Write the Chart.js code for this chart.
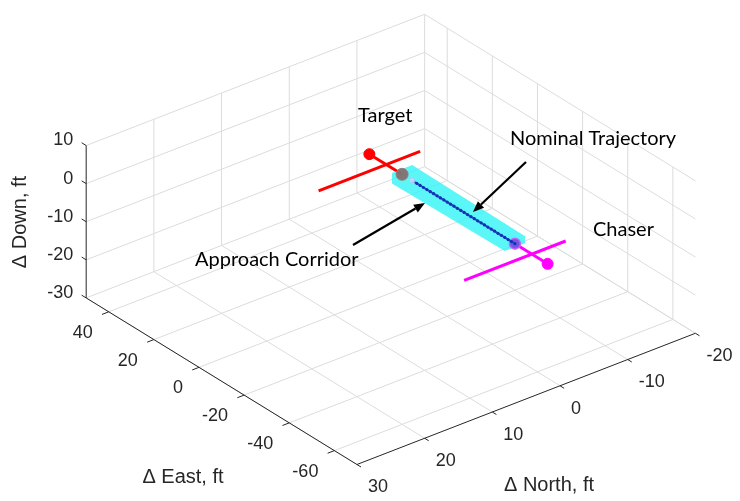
<!DOCTYPE html>
<html><head><meta charset="utf-8">
<script src="https://cdn.jsdelivr.net/npm/chart.js@4/dist/chart.umd.min.js"></script>
<style>html,body{margin:0;padding:0;background:#fff}canvas{display:block}</style>
</head><body>
<canvas id="c" width="740" height="501" style="width:740px;height:501px"></canvas>
<script>
// ---------- axis ranges & ticks (ft) ----------
const eastRange  = [-70, 50];
const northRange = [-20, 30];
const downRange  = [-30, 10];
const eastTicks  = [40, 20, 0, -20, -40, -60];
const northTicks = [30, 20, 10, 0, -10, -20];
const downTicks  = [10, 0, -10, -20, -30];

// ---------- data: [East, North, Down] ----------
const targetCenter = [14.5, 0, 0];
const targetPort   = [0, 0, 0];
const targetBarEast = 7;
const targetBarNorth = [-5, 10];
const chaserCenter = [-64.5, 0, 0];
const chaserPort   = [-50, 0, 0];
const chaserBarEast = -57.5;
const chaserBarNorth = [-5, 10];
const corridorEast = [0, -50];
const corridorHalfNorth = [1.5, 1.5];
const corridorHalfDown  = [1.4, 0.9];
const trajectoryEast = [-50, -48.5, -47, -45.5, -44, -42.5, -41, -39.5, -38, -36.5, -35, -33.5, -32, -30.5, -29, -27.5, -26, -24.5, -23, -21.5, -20, -18.5, -17, -15.5, -14, -12.5, -11, -9.5, -8, -6.5, -5];
const trajectoryNorth = trajectoryEast.map(() => 0);
const trajectoryDown  = trajectoryEast.map(() => 0);

// ---------- annotations (text + arrows) ----------
const labels = [
  {text: 'Target', x: 358, y: 116},
  {text: 'Nominal Trajectory', x: 510, y: 139},
  {text: 'Chaser', x: 593, y: 230},
  {text: 'Approach Corridor', x: 195, y: 260}
];
const arrows = [
  {from: [526, 162], to: [473, 212]},
  {from: [353, 245], to: [425, 203]}
];

// ---------- view (orthographic projection, px per ft) ----------
const view = {origin: [402.7, 172.1], eE: [-2.3, -1.428], eN: [-6.9, 2.7], eD: [0, -3.92]};
function proj(E, N, D) {
  return {x: view.origin[0] + E*view.eE[0] + N*view.eN[0] + D*view.eD[0],
          y: view.origin[1] + E*view.eE[1] + N*view.eN[1] + D*view.eD[1]};
}
const P = a => proj(a[0], a[1], a[2]);

const datasets = [];
function addLine(pts, color, width, order, extra) {
  datasets.push(Object.assign({data: pts, showLine: true, borderColor: color, backgroundColor: color,
    borderWidth: width, pointRadius: 0, order: order, fill: false}, extra || {}));
}
const GRID = '#dcdcdc';
const E0 = eastRange[1], E1 = eastRange[0], N0 = northRange[1], N1 = northRange[0], D0 = downRange[0], D1 = downRange[1];
// left wall (East = max)
[20, 10, 0, -10, -20].forEach(n => addLine([proj(E0, n, D0), proj(E0, n, D1)], GRID, 1, 100));
downTicks.forEach(d => addLine([proj(E0, N0, d), proj(E0, N1, d)], GRID, 1, 100));
// right wall (North = min)
eastTicks.forEach(e => addLine([proj(e, N1, D0), proj(e, N1, D1)], GRID, 1, 100));
downTicks.forEach(d => addLine([proj(E0, N1, d), proj(E1, N1, d)], GRID, 1, 100));
// floor
eastTicks.forEach(e => addLine([proj(e, N0, D0), proj(e, N1, D0)], GRID, 1, 100));
northTicks.forEach(n => addLine([proj(E0, n, D0), proj(E1, n, D0)], GRID, 1, 100));
// axes
const AX = '#262626';
addLine([proj(E0, N0, D0), proj(E0, N0, D1)], AX, 1, 90);
addLine([proj(E0, N0, D0), proj(E1, N0, D0)], AX, 1, 90);
addLine([proj(E1, N0, D0), proj(E1, N1, D0)], AX, 1, 90);
downTicks.forEach(d => addLine([proj(E0, N0, d), proj(E0 + 2, N0, d)], AX, 1, 90));
eastTicks.forEach(e => addLine([proj(e, N0, D0), proj(e, N0 + 1, D0)], AX, 1, 90));
northTicks.forEach(n => addLine([proj(E1, n, D0), proj(E1 - 1.8, n, D0)], AX, 1, 90));

// target & chaser bodies
addLine([proj(targetBarEast, targetBarNorth[0], 0), proj(targetBarEast, targetBarNorth[1], 0)], '#ff0000', 3, 60);
addLine([P(targetCenter), P(targetPort)], '#ff0000', 3, 60);
addLine([proj(chaserBarEast, chaserBarNorth[0], 0), proj(chaserBarEast, chaserBarNorth[1], 0)], '#ff00ff', 3, 60);
addLine([P(chaserCenter), P(chaserPort)], '#ff00ff', 3, 60);
datasets.push({data: [P(targetCenter)], pointRadius: 5.5, backgroundColor: '#ff0000', borderColor: '#ff0000', order: 55});
datasets.push({data: [P(chaserCenter)], pointRadius: 5.5, backgroundColor: '#ff00ff', borderColor: '#ff00ff', order: 55});

// approach corridor (tapered box) - silhouette
const corners = [];
[0, 1].forEach(i => [-1, 1].forEach(sn => [-1, 1].forEach(sd =>
  corners.push(proj(corridorEast[i], sn*corridorHalfNorth[i], sd*corridorHalfDown[i])))));
function hull(pts) {
  const p = pts.slice().sort((a, b) => a.x - b.x || a.y - b.y);
  const cr = (o, a, b) => (a.x-o.x)*(b.y-o.y) - (a.y-o.y)*(b.x-o.x);
  const lo = [], up = [];
  p.forEach(q => { while (lo.length >= 2 && cr(lo[lo.length-2], lo[lo.length-1], q) <= 0) lo.pop(); lo.push(q); });
  p.slice().reverse().forEach(q => { while (up.length >= 2 && cr(up[up.length-2], up[up.length-1], q) <= 0) up.pop(); up.push(q); });
  up.pop(); lo.pop();
  const h = lo.concat(up); h.push(h[0]); return h;
}
datasets.push({data: hull(corners), showLine: true, borderWidth: 0, borderColor: 'rgba(0,0,0,0)',
  backgroundColor: 'rgba(50,244,246,0.8)', fill: 'shape', pointRadius: 0, order: 50, tension: 0});

// port balls
datasets.push({data: [P(targetPort)], pointRadius: 6, backgroundColor: 'rgba(135,100,100,0.88)', borderColor: 'rgba(150,120,120,0.9)', borderWidth: 1, order: 45});
datasets.push({data: [P(chaserPort)], pointRadius: 5.5, backgroundColor: 'rgba(120,70,225,0.9)', borderColor: 'rgba(200,100,255,0.95)', borderWidth: 1.5, order: 45});

// trajectory
datasets.push({data: trajectoryEast.map((e, i) => proj(e, trajectoryNorth[i], trajectoryDown[i])), showLine: true,
  borderColor: '#2a4fd6', borderWidth: 2, pointRadius: 1.6, pointBackgroundColor: '#1232b0', pointBorderWidth: 0, order: 40});
datasets.push({data: [proj(trajectoryEast[trajectoryEast.length-1] + 0.5, 0, 0)], pointRadius: 2.5, backgroundColor: 'rgba(200,225,255,0.9)',
  borderColor: '#a8cdf5', borderWidth: 1, order: 39});

const textPlugin = {
  id: 'texts',
  afterDatasetsDraw(chart) {
    const ctx = chart.ctx, xs = chart.scales.x, ys = chart.scales.y;
    const px = p => [xs.getPixelForValue(p.x), ys.getPixelForValue(p.y)];
    ctx.save();
    ctx.fillStyle = '#262626';
    ctx.font = '18px "Liberation Sans", Arial, sans-serif';
    ctx.textBaseline = 'middle';
    ctx.textAlign = 'right';
    downTicks.forEach(t => { const [x, y] = px(proj(E0, N0, t)); ctx.fillText(String(t), x - 13, y - 5); });
    eastTicks.forEach(t => { const [x, y] = px(proj(t, N0, D0)); ctx.fillText(String(t), x - 16, y + 21); });
    ctx.textAlign = 'left';
    northTicks.forEach(t => { const [x, y] = px(proj(E1, t, D0)); ctx.fillText(String(t), x + 11, y + 23); });
    ctx.font = '20px "Liberation Sans", Arial, sans-serif';
    ctx.textAlign = 'center';
    ctx.fillText('\u0394 East, ft', 183, 477);
    ctx.fillText('\u0394 North, ft', 549, 485);
    ctx.save(); ctx.translate(20, 222); ctx.rotate(-Math.PI/2); ctx.fillText('\u0394 Down, ft', 0, 0); ctx.restore();
    // annotations
    ctx.fillStyle = '#000';
    ctx.font = '20px Lato, "Open Sans", sans-serif';
    ctx.textAlign = 'left';
    labels.forEach(l => ctx.fillText(l.text, l.x, l.y));
    ctx.strokeStyle = '#000'; ctx.lineWidth = 2.2;
    arrows.forEach(a => {
      const dx = a.to[0]-a.from[0], dy = a.to[1]-a.from[1], L = Math.hypot(dx, dy), ux = dx/L, uy = dy/L;
      const hl = 11, hw = 4.5;
      const bx = a.to[0]-ux*hl, by = a.to[1]-uy*hl;
      ctx.beginPath(); ctx.moveTo(a.from[0], a.from[1]); ctx.lineTo(bx, by); ctx.stroke();
      ctx.beginPath(); ctx.moveTo(a.to[0], a.to[1]);
      ctx.lineTo(bx - uy*hw, by + ux*hw); ctx.lineTo(bx + uy*hw, by - ux*hw); ctx.closePath(); ctx.fill();
    });
    ctx.restore();
  }
};

new Chart(document.getElementById('c'), {
  type: 'scatter',
  data: {datasets},
  options: {
    responsive: false, animation: false,
    layout: {padding: 0},
    plugins: {legend: {display: false}, tooltip: {enabled: false}},
    elements: {line: {tension: 0}},
    scales: {
      x: {type: 'linear', min: 0, max: 740, display: false},
      y: {type: 'linear', min: 0, max: 501, reverse: true, display: false}
    }
  },
  plugins: [textPlugin]
});
</script>
</body></html>
